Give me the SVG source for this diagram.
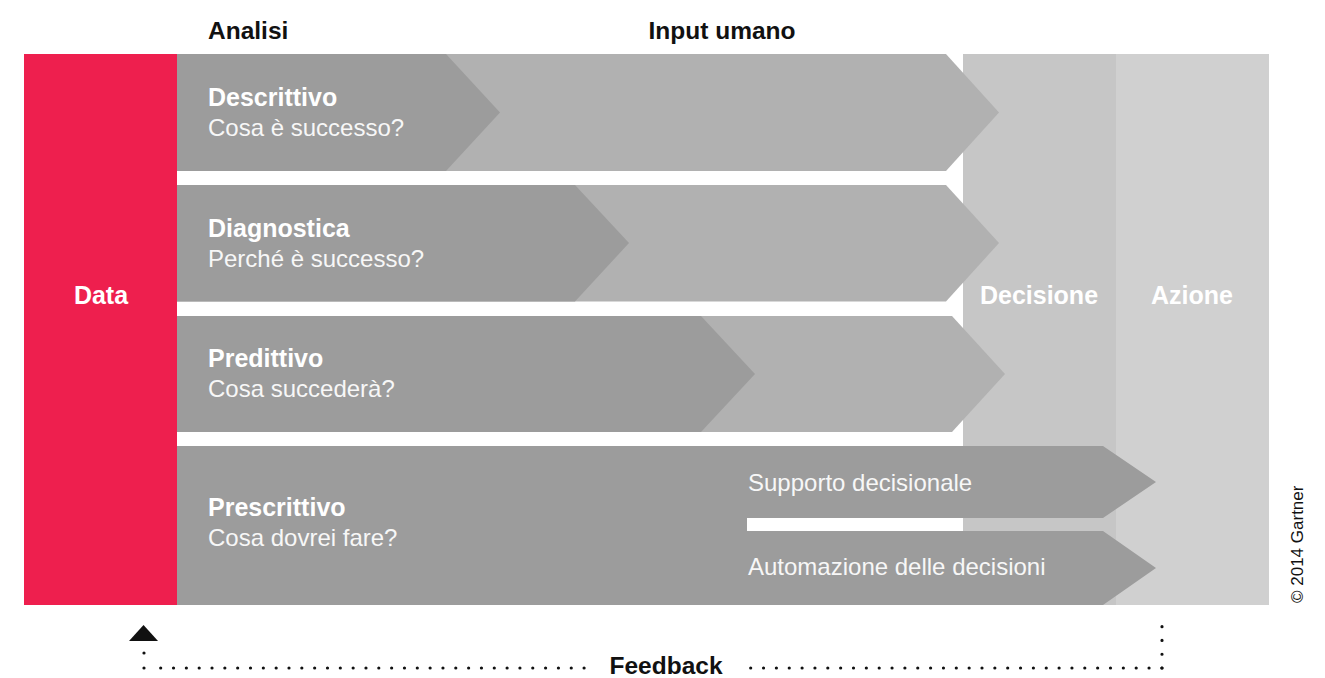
<svg xmlns="http://www.w3.org/2000/svg" width="1325" height="678" viewBox="0 0 1325 678">
<style>
text{font-family:"Liberation Sans",Arial,sans-serif}
.h{font-weight:bold;font-size:25px;fill:#ffffff}
.s{font-size:24px;fill:#f7f7f7}
.t{font-weight:bold;font-size:24.5px;fill:#111111}
.dk{fill:#9c9c9c}
.lt{fill:#b1b1b1}
.dots{stroke:#111;stroke-width:3.2;stroke-linecap:round;fill:none}
</style>
<rect width="1325" height="678" fill="#ffffff"/>
<text class="t" x="208" y="39">Analisi</text>
<text class="t" x="722" y="39" text-anchor="middle">Input umano</text>
<g id="decisione">
<rect x="963" y="54" width="153" height="551" fill="#c6c6c6"/>
<text class="h" x="1039" y="304" text-anchor="middle" fill="#f8f8f8">Decisione</text>
</g>
<g id="azione">
<rect x="1116" y="54" width="153" height="551" fill="#d0d0d0"/>
<text class="h" x="1192" y="304" text-anchor="middle">Azione</text>
</g>
<g id="data">
<rect x="24" y="54" width="153" height="551" fill="#ee1f4e"/>
<text class="h" x="101" y="304" text-anchor="middle">Data</text>
</g>
<g id="descrittivo">
<polygon class="lt" points="177,54 946,54 999,112.5 946,171 177,171"/>
<polygon class="dk" points="177,54 446,54 500,112.5 446,171 177,171"/>
<text class="h" x="208" y="106">Descrittivo</text>
<text class="s" x="208" y="136">Cosa è successo?</text>
</g>
<g id="diagnostica">
<polygon class="lt" points="177,185 946,185 999,243 946,301.5 177,301.5"/>
<polygon class="dk" points="177,185 575,185 629,243 575,301.5 177,301.5"/>
<text class="h" x="208" y="237">Diagnostica</text>
<text class="s" x="208" y="267">Perché è successo?</text>
</g>
<g id="predittivo">
<polygon class="lt" points="177,316 952,316 1005,374 952,432 177,432"/>
<polygon class="dk" points="177,316 701,316 755,374 701,432 177,432"/>
<text class="h" x="208" y="367">Predittivo</text>
<text class="s" x="208" y="397">Cosa succederà?</text>
</g>
<g id="prescrittivo">
<polygon class="dk" points="177,446 1103,446 1156,482 1103,518 747,518 747,531 1103,531 1156,568 1103,605 177,605"/>
<text class="h" x="208" y="516">Prescrittivo</text>
<text class="s" x="208" y="546">Cosa dovrei fare?</text>
<text class="s" x="748" y="491">Supporto decisionale</text>
<text class="s" x="748" y="575">Automazione delle decisioni</text>
</g>
<g id="connectors">
<polygon points="129,641 158,641 143.5,625" fill="#111"/>
<circle cx="144" cy="653" r="1.6" fill="#111"/>
<circle cx="144" cy="668" r="1.6" fill="#111"/>
<path class="dots" d="M160.7,668 L585.5,668" stroke-dasharray="0 12.83"/>
<path class="dots" d="M750.7,668 L1163,668" stroke-dasharray="0 12.85"/>
<path class="dots" d="M1162,626.7 L1162,669" stroke-dasharray="0 13.77"/>
</g>
<g id="feedback">
<text class="t" x="666" y="674" text-anchor="middle" font-size="25">Feedback</text>
</g>
<text x="0" y="0" transform="translate(1303,603) rotate(-90)" font-size="17" fill="#111">© 2014 Gartner</text>
</svg>
